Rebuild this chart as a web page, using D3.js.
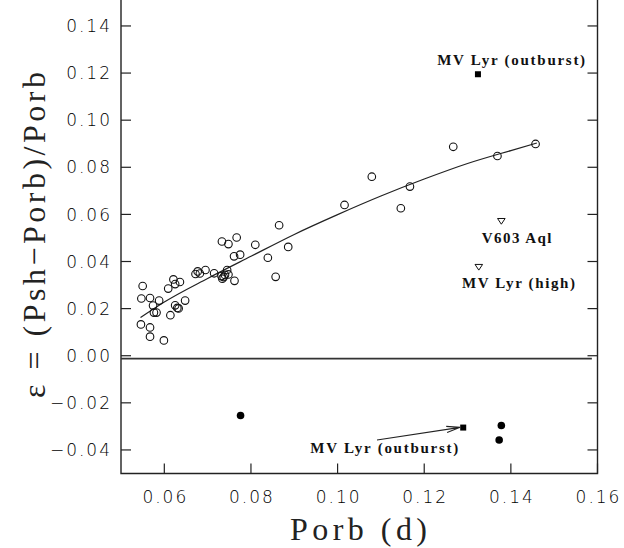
<!DOCTYPE html>
<html>
<head>
<meta charset="utf-8">
<script src="https://cdn.jsdelivr.net/npm/d3@7"></script>
<style>
  html, body { margin: 0; padding: 0; background: #fff; }
  svg { display: block; }
  .tick-label { font-family: "DejaVu Sans", sans-serif; font-weight: 200; font-size: 17px; fill: #000; letter-spacing: 2px; }
  .title { font-family: "Liberation Serif", serif; font-size: 32px; fill: #222; }
  .note { font-family: "Liberation Serif", serif; font-weight: bold; font-size: 15px; fill: #111; }
</style>
</head>
<body>
<div class="a"></div>
<script>
// superhump excess data
const porbOpen = [0.0550, 0.0547, 0.0567, 0.0574, 0.0588, 0.0576, 0.0582, 0.0546, 0.0567, 0.0567,
  0.0599, 0.0609, 0.0621, 0.0625, 0.0636, 0.0614, 0.0625, 0.0630, 0.0633, 0.0648,
  0.0672, 0.0677, 0.0682, 0.0695, 0.0715, 0.0732, 0.0737, 0.0734, 0.0740, 0.0745,
  0.0748, 0.0733, 0.0748, 0.0767, 0.0761, 0.0775, 0.0762, 0.0810, 0.0839, 0.0865,
  0.0857, 0.0886, 0.1016, 0.1079, 0.1146, 0.1167, 0.1267, 0.1369, 0.1457];
const epsOpen = [0.0296, 0.0243, 0.0245, 0.0213, 0.0234, 0.0183, 0.0183, 0.0133, 0.0120, 0.0081,
  0.0065, 0.0285, 0.0324, 0.0304, 0.0313, 0.0172, 0.0214, 0.0203, 0.0201, 0.0234,
  0.0347, 0.0358, 0.0349, 0.0364, 0.0350, 0.0338, 0.0334, 0.0327, 0.0343, 0.0364,
  0.0345, 0.0485, 0.0474, 0.0502, 0.0422, 0.0429, 0.0318, 0.0471, 0.0416, 0.0554,
  0.0335, 0.0462, 0.0640, 0.0760, 0.0626, 0.0718, 0.0887, 0.0848, 0.0899];

// negative superhumps
const porbNeg = [0.0776, 0.1378, 0.1373];
const epsNeg = [-0.0254, -0.0296, -0.0358];

// MV Lyr outburst (squares) and high state (triangles)
const porbSquare = [0.1324, 0.1290];
const epsSquare = [0.1195, -0.0305];
const porbTri = [0.1378, 0.1326];
const epsTri = [0.0572, 0.0377];

// fitted relation
const porbFit = [0.0545, 0.06, 0.07, 0.08, 0.09, 0.10, 0.11, 0.12, 0.13, 0.14, 0.146];
const epsFit = [0.0162, 0.0228, 0.0328, 0.0422, 0.0515, 0.0599, 0.0678, 0.0750, 0.0816, 0.0871, 0.0903];

// star labels: text, left x, baseline y (data units)
const noteText = ["MV Lyr (outburst)", "V603 Aql", "MV Lyr (high)", "MV Lyr (outburst)"];
const noteX = [0.1230, 0.1333, 0.1287, 0.0937];
const noteY = [0.1234, 0.0477, 0.0286, -0.0413];

// arrow from lower label to the square
const arrowFrom = [0.1091, -0.0358];
const arrowTo = [0.1283, -0.0304];

const xTicks = [0.06, 0.08, 0.10, 0.12, 0.14, 0.16];
const yTicks = [-0.04, -0.02, 0.00, 0.02, 0.04, 0.06, 0.08, 0.10, 0.12, 0.14];

const W = 624, H = 548;
const x = d3.scaleLinear().domain([0.05, 0.16]).range([121, 597.5]);
const y = d3.scaleLinear().domain([-0.05, 0.15]).range([473.5, 2.4]);
const ink = "#222";

const svg = d3.select(".a").append("svg")
  .attr("width", W).attr("height", H);

// frame (no top line visible)
const x0 = x.range()[0], x1 = x.range()[1], yb = y.range()[0];
svg.append("path")
  .attr("d", `M${x0},0V${yb}H${x1}V0`)
  .attr("fill", "none").attr("stroke", ink).attr("stroke-width", 1.4);

// ticks pointing inward
const tl = 10;
svg.append("g").selectAll("line").data(yTicks).join("line")
  .attr("x1", x0).attr("x2", x0 + tl)
  .attr("y1", d => y(d)).attr("y2", d => y(d))
  .attr("stroke", ink).attr("stroke-width", 1.2);
svg.append("g").selectAll("line").data(yTicks).join("line")
  .attr("x1", x1).attr("x2", x1 - tl)
  .attr("y1", d => y(d)).attr("y2", d => y(d))
  .attr("stroke", ink).attr("stroke-width", 1.2);
svg.append("g").selectAll("line").data(xTicks).join("line")
  .attr("x1", d => x(d)).attr("x2", d => x(d))
  .attr("y1", yb).attr("y2", yb - tl)
  .attr("stroke", ink).attr("stroke-width", 1.2);

const fmt = d => (d < 0 ? "\u2212" : "") + Math.abs(d).toFixed(2);

svg.append("g").selectAll("text").data(yTicks).join("text")
  .attr("class", "tick-label")
  .attr("x", x0 - 9)
  .attr("y", d => y(d))
  .attr("dy", "0.36em")
  .attr("text-anchor", "end")
  .text(fmt);

svg.append("g").selectAll("text").data(xTicks).join("text")
  .attr("class", "tick-label")
  .attr("x", d => x(d) + 1)
  .attr("y", yb + 23)
  .attr("dy", "0.36em")
  .attr("text-anchor", "middle")
  .text(fmt);

// titles
svg.append("text").attr("class", "title")
  .attr("x", 290).attr("y", 540)
  .attr("textLength", 137).attr("lengthAdjust", "spacing")
  .text("Porb (d)");

svg.append("text").attr("class", "title")
  .attr("transform", "translate(45,398) rotate(-90)")
  .attr("x", 0).attr("y", 0)
  .attr("textLength", 326).attr("lengthAdjust", "spacing")
  .text("\u03b5 = (Psh\u2212Porb)/Porb");

// zero line (drawn a touch under the 0.00 tick like the original)
svg.append("line")
  .attr("x1", x0).attr("x2", x(0.1587))
  .attr("y1", y(-0.0012)).attr("y2", y(-0.0012))
  .attr("stroke", "#333").attr("stroke-width", 1.8);

// fitted curve
const fit = porbFit.map((p, i) => [p, epsFit[i]]);
svg.append("path")
  .datum(fit)
  .attr("fill", "none").attr("stroke", ink).attr("stroke-width", 1.2)
  .attr("d", d3.line().x(d => x(d[0])).y(d => y(d[1])).curve(d3.curveMonotoneX));

// open circles
svg.append("g").selectAll("circle").data(porbOpen.map((p, i) => [p, epsOpen[i]])).join("circle")
  .attr("cx", d => x(d[0])).attr("cy", d => y(d[1]))
  .attr("r", 3.8)
  .attr("fill", "none").attr("stroke", "#111").attr("stroke-width", 1.1);

// filled circles
svg.append("g").selectAll("circle").data(porbNeg.map((p, i) => [p, epsNeg[i]])).join("circle")
  .attr("cx", d => x(d[0])).attr("cy", d => y(d[1]))
  .attr("r", 3.8).attr("fill", "#000");

// squares
svg.append("g").selectAll("rect").data(porbSquare.map((p, i) => [p, epsSquare[i]])).join("rect")
  .attr("x", d => x(d[0]) - 3).attr("y", d => y(d[1]) - 3)
  .attr("width", 6).attr("height", 6).attr("fill", "#000");

// open triangles pointing down
svg.append("g").selectAll("path").data(porbTri.map((p, i) => [p, epsTri[i]])).join("path")
  .attr("d", d => {
    const cx = x(d[0]), cy = y(d[1]);
    return `M${cx - 3.8},${cy - 2.5}H${cx + 3.8}L${cx},${cy + 3.2}Z`;
  })
  .attr("fill", "none").attr("stroke", "#111").attr("stroke-width", 1);

// labels
svg.append("g").selectAll("text").data(noteText).join("text")
  .attr("class", "note")
  .attr("x", (d, i) => x(noteX[i]))
  .attr("y", (d, i) => y(noteY[i]))
  .attr("textLength", d => d.length * 8.7)
  .attr("lengthAdjust", "spacing")
  .text(d => d);

// arrow
const ax0 = x(arrowFrom[0]), ay0 = y(arrowFrom[1]);
const ax1 = x(arrowTo[0]), ay1 = y(arrowTo[1]);
const ang = Math.atan2(ay1 - ay0, ax1 - ax0);
const hl = 14, ha = 0.22;
svg.append("path")
  .attr("d", `M${ax0},${ay0}L${ax1},${ay1}` +
    `M${ax1 - hl * Math.cos(ang - ha)},${ay1 - hl * Math.sin(ang - ha)}L${ax1},${ay1}` +
    `L${ax1 - hl * Math.cos(ang + ha)},${ay1 - hl * Math.sin(ang + ha)}`)
  .attr("fill", "none").attr("stroke", ink).attr("stroke-width", 1.1);
</script>
</body>
</html>
